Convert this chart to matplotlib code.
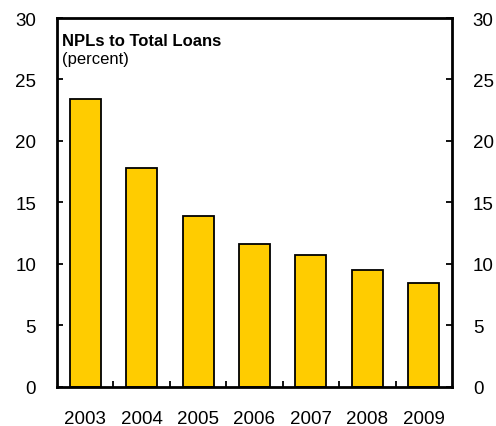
import matplotlib
matplotlib.use("Agg")
import matplotlib.pyplot as plt
import numpy as np

plt.rcParams["font.family"] = ["Liberation Sans", "DejaVu Sans"]

years = ["2003", "2004", "2005", "2006", "2007", "2008", "2009"]
npl_ratio = [23.4, 17.8, 13.9, 11.6, 10.7, 9.5, 8.4]

fig = plt.figure(figsize=(4.96, 4.27), dpi=100)
ax = fig.add_axes([0.1149, 0.092, 0.7964, 0.8635])

x = np.arange(len(years))
ax.bar(x, npl_ratio, width=0.55, color="#FFCC00", edgecolor="black", linewidth=1.3, zorder=2)

ax.set_xlim(-0.5, len(years) - 0.5)
ax.set_ylim(0, 30)
ax.set_yticks(range(0, 31, 5))

# category labels under bars, tick marks between categories
ax.set_xticks(x)
ax.set_xticklabels(years, fontsize=13.5)
ax.tick_params(axis="x", length=0, pad=17)
ax.set_xticks(x[:-1] + 0.5, minor=True)
ax.tick_params(axis="x", which="minor", direction="in", length=4, width=1.3)

ax.tick_params(axis="y", direction="in", length=4, width=1.3, labelsize=13.5,
               left=True, right=True, labelleft=True, labelright=True, pad=15)

for s in ax.spines.values():
    s.set_linewidth(2)

ax.text(0.012, 0.94, "NPLs to Total Loans", transform=ax.transAxes,
        fontsize=12, fontweight="bold", va="center", ha="left")
ax.text(0.012, 0.889, "(percent)", transform=ax.transAxes,
        fontsize=12, va="center", ha="left")

fig.savefig("out.png", dpi=100)
